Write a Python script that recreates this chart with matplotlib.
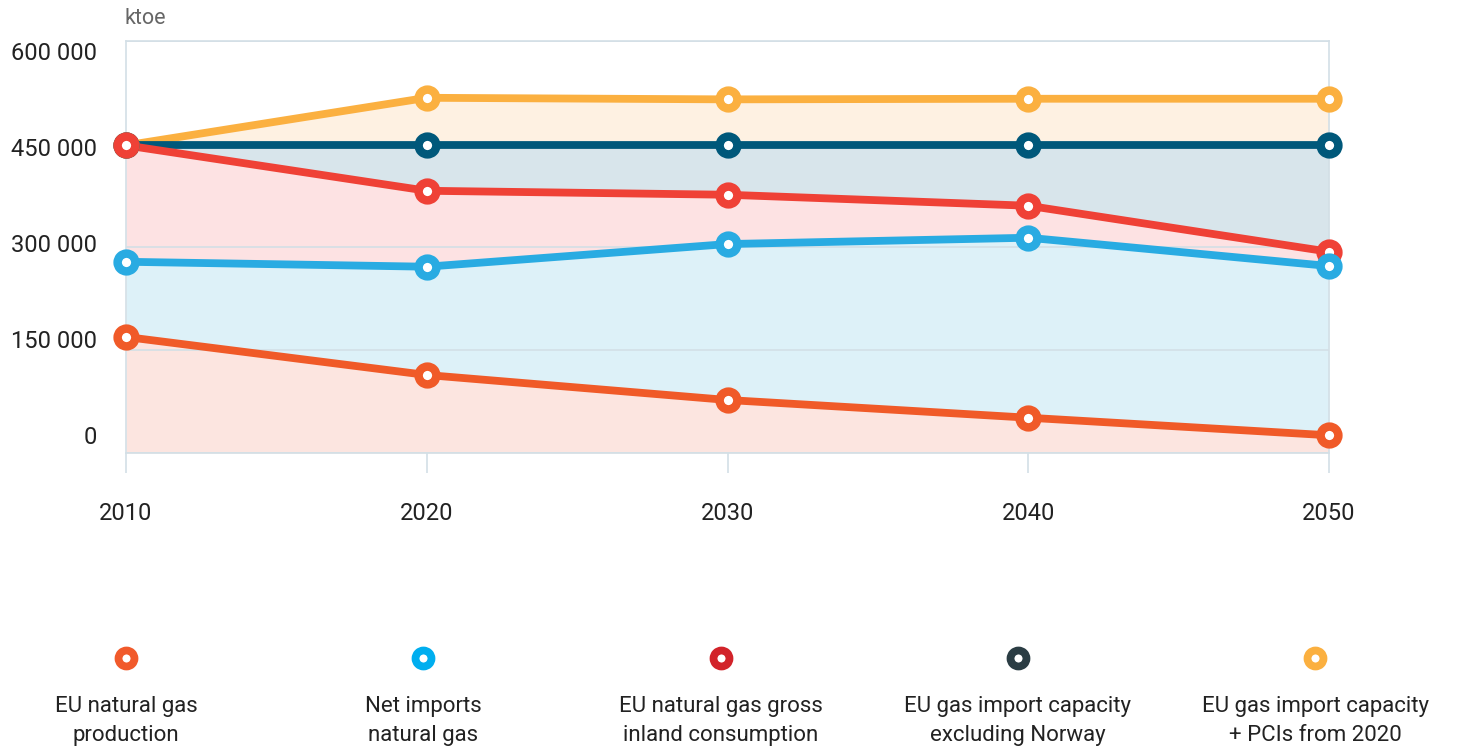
import numpy as np
import matplotlib
matplotlib.use("Agg")
import matplotlib.pyplot as plt
from matplotlib.transforms import ScaledTranslation

# ---- data (ktoe) ----
years = [2010, 2020, 2030, 2040, 2050]
production = [169000, 113600, 77200, 51400, 25800]
net_imports = [278500, 271300, 304300, 313500, 272300]
consumption = [448000, 381900, 376100, 360100, 293100]
capacity_excl_norway = [448000, 448000, 448000, 448000, 448000]
capacity_pcis = [448000, 517300, 515000, 515900, 515900]

ytick_values = [0, 150000, 300000, 450000, 600000]
ytick_labels = ["0", "150 000", "300 000", "450 000", "600 000"]
legend_labels = [
    "EU natural gas\nproduction",
    "Net imports\nnatural gas",
    "EU natural gas gross\ninland consumption",
    "EU gas import capacity\nexcluding Norway",
    "EU gas import capacity\n+ PCIs from 2020",
]

# ---- styles ----
line_colors = ["#F05A28", "#29ABE2", "#EF4136", "#00587A", "#FBB040"]
legend_colors = ["#F15A2B", "#00AEEF", "#D2232A", "#2B3D44", "#FBB040"]
fill_colors = ["#FCE5E0", "#DDF1F8", "#FDE2E3", "#D8E5EB", "#FEF1E2"]
grid_color = "#D3DFE6"
text_color = "#222222"
num_font = ["Roboto", "DejaVu Sans"]
leg_font = ["Roboto", "DejaVu Sans"]

W, H = 1463, 753
fig = plt.figure(figsize=(W / 100, H / 100), dpi=100)
ax = fig.add_axes([126 / W, (H - 453) / H, (1329 - 126) / W, (453 - 41) / H])

series = [production, net_imports, consumption, capacity_excl_norway, capacity_pcis]
x = np.array(years)

# fills
lower = np.zeros(len(years))
for s, fc in zip(series, fill_colors):
    ax.fill_between(x, lower, s, color=fc, lw=0, zorder=1)
    lower = np.array(s)

# gridlines
for v in ytick_values:
    ax.axhline(v, color=grid_color, lw=1.2, zorder=2)

# lines (draw in order so top series overlay)
draw_order = [4, 3, 2, 1, 0]
for i in draw_order:
    ax.plot(x, series[i], color=line_colors[i], lw=5.6, zorder=3 + (4 - i) * 0.1,
            solid_capstyle="butt", clip_on=False)
for i in draw_order:
    ax.plot(x, series[i], ls="none", marker="o", ms=12.8, mew=6.1,
            mec=line_colors[i], mfc="white", zorder=5 + (4 - i) * 0.1, clip_on=False)

ax.set_xlim(years[0], years[-1])
ax.set_ylim(0, 600000)

for sp in ax.spines.values():
    sp.set_color(grid_color)
    sp.set_linewidth(1.2)

ax.set_xticks(years)
ax.set_xticklabels([str(y) for y in years], fontsize=17, color=text_color,
                   family=num_font)
ax.tick_params(axis="x", length=14.5, width=1.2, color=grid_color, pad=21)
ax.set_yticks(ytick_values)
ax.set_yticklabels(ytick_labels, fontsize=17, color=text_color, family=num_font)
ax.tick_params(axis="y", length=0, pad=21)

# original label placement drifts from the gridlines
offsets_px = {0: -18.4, 150000: -11.3, 300000: -4.2, 450000: 2.9, 600000: 10.0}
for v, lab in zip(ytick_values, ax.get_yticklabels()):
    d = offsets_px[v]
    lab.set_transform(lab.get_transform() + ScaledTranslation(0, -d / 100, fig.dpi_scale_trans))

fig.text(124 / W, 1 - 18 / H, "ktoe", fontsize=15.5, color="#666666",
         family=num_font, ha="left", va="center")

# legend
centers = np.linspace(126, 1315, len(legend_labels)) / W
for cx, lab, col in zip(centers, legend_labels, legend_colors):
    fig.add_artist(plt.Line2D([cx], [1 - 658 / H], ls="none", marker="o",
                              ms=11.5, mew=5.6, mec=col, mfc="white",
                              transform=fig.transFigure))
    fig.text(cx, 1 - 721 / H, lab, ha="center", va="center", fontsize=16,
             color=text_color, family=leg_font, linespacing=1.45,
             multialignment="center")

fig.savefig("out.png", dpi=100)
